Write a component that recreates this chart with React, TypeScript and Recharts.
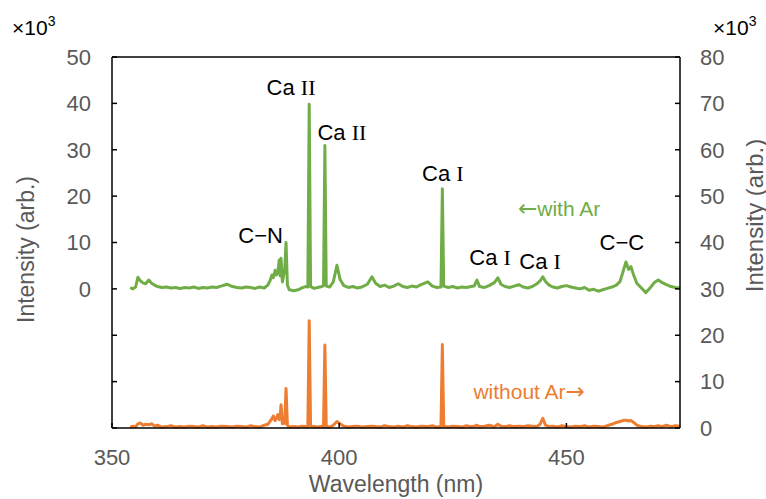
import { LineChart, Line, XAxis, YAxis, ReferenceDot, ReferenceLine } from 'recharts';

// wavelength in nm, intensities in units of 10^3
const wavelength = [
  354.0, 354.6, 355.2, 355.7, 356.2, 356.8, 357.4, 358.1, 358.7, 359.4,
  360.0, 361.0, 362.0, 363.0, 364.0, 365.0, 366.0, 367.0, 368.0, 369.0,
  370.0, 371.0, 372.0, 373.0, 374.0, 375.3, 376.5, 377.5, 378.5, 379.5,
  380.5, 381.5, 382.5, 383.5, 384.3, 384.8, 385.2, 385.5, 385.9, 386.2,
  386.5, 386.8, 387.0, 387.2, 387.5, 387.8, 388.0, 388.3, 388.6, 389.0,
  390.0, 391.0, 391.8, 392.6, 393.1, 393.4, 393.7, 394.5, 395.3, 396.2,
  396.55, 396.85, 397.15, 397.9, 398.7, 399.5, 400.2, 401.0, 402.0, 403.0,
  404.0, 405.0, 406.2, 407.2, 408.0, 409.0, 410.0, 411.0, 412.0, 413.0,
  414.0, 415.0, 416.0, 417.0, 418.0, 419.5, 420.5, 421.5, 422.4, 422.7,
  423.0, 424.0, 425.0, 426.0, 427.0, 428.0, 429.0, 429.7, 430.3, 430.9,
  432.0, 433.0, 434.2, 434.9, 435.6, 436.5, 437.5, 438.5, 439.5, 440.5,
  441.5, 442.5, 443.5, 444.2, 444.8, 445.4, 446.2, 447.0, 448.0, 449.0,
  450.0, 451.0, 452.0, 453.0, 454.0, 455.0, 456.0, 457.0, 458.0, 459.0,
  460.0, 461.0, 461.8, 462.4, 463.1, 463.7, 464.2, 464.8, 465.5, 466.5,
  467.5, 468.5, 469.3, 470.2, 471.0, 472.0, 473.0, 474.0, 475.0,
];

const withAr = [
  0.3, 0.0, 0.4, 2.5, 1.8, 1.3, 1.1, 1.9, 1.2, 0.8,
  0.5, 0.3, 0.4, 0.2, 0.3, 0.1, 0.3, 0.2, 0.4, 0.1,
  0.3, 0.2, 0.4, 0.3, 0.6, 1.0, 0.5, 0.3, 0.2, 0.4,
  0.3, 0.1, 0.4, 0.2, 0.8, 1.8, 3.0, 2.4, 4.0, 3.0,
  3.6, 6.2, 2.8, 6.6, 1.5, 3.0, 4.0, 10.0, 0.8, -0.2,
  -0.4, -0.2, 0.2, 0.5, 0.4, 39.8, 0.5, 0.1, 0.3, 0.5,
  0.7, 30.9, 0.6, 0.4, 1.5, 5.1, 2.0, 0.7, 0.3, 0.5,
  0.2, 0.4, 1.0, 2.6, 1.2, 0.5, 0.8, 0.3, 0.6, 1.1,
  0.5, 0.3, 0.6, 0.4, 0.9, 1.5, 0.6, 0.3, 0.4, 21.6,
  0.6, 0.3, 0.5, 0.2, 0.4, 0.3, 0.5, 0.6, 1.9, 0.5,
  0.3, 0.7, 1.4, 2.4, 1.0, 0.5, 0.3, 0.6, 0.9, 0.4,
  0.2, 0.5, 1.1, 1.7, 2.6, 1.6, 0.8, 0.4, 0.2, 0.5,
  0.7, 0.4, 0.2, 0.0, 0.3, -0.3, -0.1, -0.5, -0.2, 0.1,
  0.4, 0.8, 1.6, 3.5, 5.8, 4.2, 4.8, 3.0, 1.2, 0.2,
  -0.8, 0.3, 1.3, 1.9, 1.4, 0.9, 0.5, 0.3, 0.2,
];

const withoutAr = [
  0.2, 0.4, 0.3, 0.9, 1.1, 0.6, 0.8, 0.7, 0.9, 0.4,
  0.6, 0.2, 0.3, 0.5, 0.2, 0.3, 0.2, 0.4, 0.3, 0.2,
  0.5, 0.2, 0.3, 0.2, 0.4, 0.3, 0.2, 0.4, 0.3, 0.2,
  0.5, 0.3, 0.2, 0.6, 0.8, 1.5, 2.0, 2.6, 1.6, 2.2,
  2.9, 1.8, 2.5, 5.0, 0.9, 1.4, 1.0, 8.5, 0.6, 0.2,
  0.3, 0.2, 0.4, 0.3, 0.3, 23.1, 0.4, 0.3, 0.2, 0.4,
  0.3, 17.9, 0.3, 0.2, 0.6, 1.4, 0.9, 0.4, 0.2, 0.3,
  0.4, 0.2, 0.3, 0.4, 0.3, 0.2, 0.5, 0.3, 0.2, 0.4,
  0.2, 0.5, 0.3, 0.2, 0.4, 0.3, 0.5, 0.2, 0.3, 18.0,
  0.4, 0.2, 0.4, 0.3, 0.2, 0.5, 0.3, 0.4, 0.6, 0.3,
  0.4, 0.6, 0.3, 0.8, 0.4, 0.3, 0.5, 0.3, 0.4, 0.3,
  0.5, 0.4, 0.3, 0.8, 2.1, 0.6, 0.3, 0.4, 0.2, 0.5,
  0.3, 0.2, 0.4, 0.3, 0.5, 0.2, 0.4, 0.3, 0.2, 0.5,
  0.8, 1.2, 1.4, 1.6, 1.7, 1.5, 1.6, 1.2, 0.6, 0.3,
  0.2, 0.4, 0.3, 0.5, 0.3, 0.6, 0.3, 0.5, 0.4,
];

const xTicks = [350, 400, 450];
const leftTicks = [-30, -20, -10, 0, 10, 20, 30, 40, 50];
const rightTicks = [0, 10, 20, 30, 40, 50, 60, 70, 80];

// annotation anchors: wavelength and left-axis intensity of the text baseline centre
const peakNames = ['Ca', 'Ca', 'Ca', 'C\u2212N', 'Ca', 'Ca', 'C\u2212C'];
const peakIons = ['II', 'II', 'I', '', 'I', 'I', ''];
const peakX = [389.4, 400.6, 422.8, 382.7, 433.2, 444.2, 462.2];
const peakY = [41.8, 32.0, 23.3, 9.8, 5.1, 4.2, 8.3];

const seriesNames = ['with Ar', 'without Ar'];
const seriesX = [448.4, 441.8];
const seriesY = [15.8, -23.7];

const data = wavelength.map((w, i) => ({ w, withAr: withAr[i], withoutAr: withoutAr[i] }));

const SANS = '"Liberation Sans", Arial, sans-serif';
const SERIF = '"Liberation Serif", "Times New Roman", serif';
const ARROW = '"DejaVu Sans", sans-serif';
const GREEN = '#70AD47';
const ORANGE = '#ED7D31';
const GREY = '#595959';

function PeakText(props: any, name: string, ion: string) {
  const vb = props.viewBox || {};
  return (
    <text x={vb.x} y={vb.y} textAnchor="middle" fill="#000" fontSize={22} fontFamily={SANS}>
      <tspan>{ion ? name + ' ' : name}</tspan>
      {ion && <tspan fontFamily={SERIF}>{ion}</tspan>}
    </text>
  );
}

function SeriesText(props: any, name: string, i: number) {
  const vb = props.viewBox || {};
  return (
    <text x={vb.x} y={vb.y} textAnchor="middle" fill={i === 0 ? GREEN : ORANGE} fontSize={21} fontFamily={SANS}>
      {i === 0 && <tspan fontFamily={ARROW} fontSize={23}>{'\u2190'}</tspan>}
      <tspan>{name}</tspan>
      {i === 1 && <tspan fontFamily={ARROW} fontSize={23}>{'\u2192'}</tspan>}
    </text>
  );
}

function Times10(x: number) {
  return (
    <text x={x} y={35} fill="#000" fontSize={21} fontFamily={SANS}>
      <tspan>{'\u00d710'}</tspan>
      <tspan fontSize={14} dy={-9}>3</tspan>
    </text>
  );
}

function LeftTitle(props: any) {
  const vb = props.viewBox;
  const cx = vb.x + 26;
  const cy = vb.y + vb.height / 2 + 7;
  return (
    <g>
      <text x={cx} y={cy} transform={`rotate(-90, ${cx}, ${cy})`} textAnchor="middle" dominantBaseline="central"
        fill={GREY} fontSize={23} fontFamily={SANS}>Intensity (arb.)</text>
      {Times10(12)}
    </g>
  );
}

function RightTitle(props: any) {
  const vb = props.viewBox;
  const cx = vb.x + 74;
  const cy = vb.y + vb.height / 2 - 27;
  return (
    <g>
      <text x={cx} y={cy} transform={`rotate(-90, ${cx}, ${cy})`} textAnchor="middle" dominantBaseline="central"
        fill={GREY} fontSize={24} fontFamily={SANS}>Intensity (arb.)</text>
      {Times10(713)}
    </g>
  );
}

function BottomTitle(props: any) {
  const vb = props.viewBox;
  return (
    <text x={vb.x + vb.width / 2} y={vb.y + 64} textAnchor="middle" fill={GREY} fontSize={23} fontFamily={SANS}>
      Wavelength (nm)
    </text>
  );
}

export default function App() {
  const tickStyle = { fill: GREY, fontSize: 22, fontFamily: SANS };
  const axisLine = { stroke: '#000', strokeWidth: 1.5 };
  return (
    <div style={{ position: 'absolute', left: 0, top: 0, background: '#fff' }}>
      <LineChart width={766} height={499} data={data} margin={{ top: 57, right: 0, bottom: 0, left: 0 }}>
        <XAxis dataKey="w" type="number" domain={[350, 475]} ticks={xTicks} allowDataOverflow
          height={71} tick={tickStyle} tickSize={-5} tickMargin={26}
          axisLine={axisLine} tickLine={axisLine} label={{ content: BottomTitle }} />
        <YAxis yAxisId="left" orientation="left" domain={[-30, 50]} ticks={leftTicks} width={112}
          tick={tickStyle} tickSize={-5} tickMargin={26} interval={0}
          tickFormatter={(v: number) => (v < 0 ? '' : String(v))}
          axisLine={axisLine} tickLine={axisLine} label={{ content: LeftTitle }} />
        <YAxis yAxisId="right" orientation="right" domain={[0, 80]} ticks={rightTicks} width={86}
          tick={tickStyle} tickSize={-5} tickMargin={25} interval={0}
          axisLine={axisLine} tickLine={axisLine} label={{ content: RightTitle }} />
        <ReferenceLine yAxisId="left" y={50} stroke="#000" strokeWidth={1.5} />
        <Line yAxisId="right" dataKey="withoutAr" stroke={ORANGE} strokeWidth={3} dot={false}
          type="linear" isAnimationActive={false} strokeLinejoin="round" />
        <Line yAxisId="left" dataKey="withAr" stroke={GREEN} strokeWidth={3} dot={false}
          type="linear" isAnimationActive={false} strokeLinejoin="round" />
        {peakNames.map((n, i) => (
          <ReferenceDot key={'p' + i} yAxisId="left" x={peakX[i]} y={peakY[i]} r={0} fill="none" stroke="none"
            label={(p: any) => PeakText(p, n, peakIons[i])} />
        ))}
        {seriesNames.map((n, i) => (
          <ReferenceDot key={'s' + i} yAxisId="left" x={seriesX[i]} y={seriesY[i]} r={0} fill="none" stroke="none"
            label={(p: any) => SeriesText(p, n, i)} />
        ))}
      </LineChart>
    </div>
  );
}
